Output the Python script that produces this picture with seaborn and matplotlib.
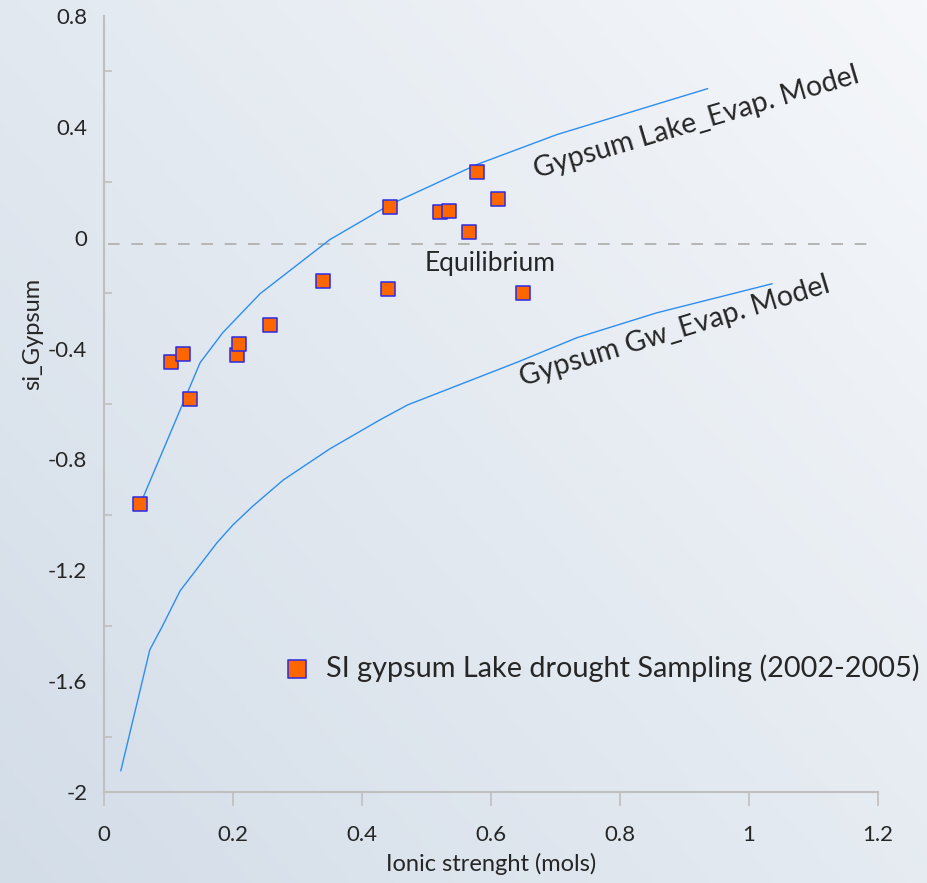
import numpy as np
import pandas as pd
import matplotlib
matplotlib.use("Agg")
import matplotlib.pyplot as plt
from matplotlib.colors import LinearSegmentedColormap
import seaborn as sns

# Sampled saturation indices (drought period)
sample_ionic = [0.056, 0.104, 0.122, 0.133, 0.206, 0.209, 0.257, 0.340,
                0.443, 0.440, 0.521, 0.535, 0.566, 0.578, 0.611, 0.650]
sample_si = [-0.96, -0.448, -0.419, -0.581, -0.422, -0.383, -0.314, -0.155,
             0.112, -0.184, 0.094, 0.097, 0.022, 0.238, 0.141, -0.199]

# Evaporation model curves
lake_ionic = [0.057, 0.149, 0.184, 0.242, 0.350, 0.443, 0.578, 0.702, 0.936]
lake_si = [-0.957, -0.451, -0.343, -0.202, -0.007, 0.119, 0.264, 0.372, 0.538]

gw_ionic = [0.026, 0.071, 0.090, 0.118, 0.175, 0.200, 0.231, 0.278, 0.350,
            0.428, 0.471, 0.642, 0.733, 0.857, 1.036]
gw_si = [-1.924, -1.487, -1.404, -1.274, -1.101, -1.036, -0.968, -0.874, -0.762,
         -0.657, -0.603, -0.448, -0.361, -0.271, -0.166]

x_ticks = [0, 0.2, 0.4, 0.6, 0.8, 1, 1.2]
x_tick_labels = ["0", "0.2", "0.4", "0.6", "0.8", "1", "1.2"]
y_ticks = [0.8, 0.4, 0, -0.4, -0.8, -1.2, -1.6, -2]
y_tick_labels = ["0.8", "0.4", "0", "-0.4", "-0.8", "-1.2", "-1.6", "-2"]

samples = pd.DataFrame({"ionic": sample_ionic, "si": sample_si})
lake = pd.DataFrame({"ionic": lake_ionic, "si": lake_si})
gw = pd.DataFrame({"ionic": gw_ionic, "si": gw_si})

sns.set_theme(style="white")
plt.rcParams["font.family"] = ["Lato", "DejaVu Sans"]

fig = plt.figure(figsize=(9.28, 8.83), dpi=100)

# soft diagonal background
bg = fig.add_axes([0, 0, 1, 1], zorder=-10)
yy, xx = np.mgrid[0:1:200j, 0:1:200j]
t = np.clip(0.55 * xx + 0.45 * (1 - yy), 0, 1)
cmap = LinearSegmentedColormap.from_list("bg", ["#d3dde8", "#e4eaf1", "#f5f7fa"])
bg.imshow(t, cmap=cmap, aspect="auto", extent=[0, 1, 0, 1], origin="upper")
bg.axis("off")

ax = fig.add_axes([104 / 928, 1 - 792 / 883, (878 - 104) / 928, (792 - 16) / 883])
ax.set_facecolor("none")

line_color = "#2b8ef0"
sns.lineplot(data=lake, x="ionic", y="si", sort=False, estimator=None,
             color=line_color, linewidth=1.0, ax=ax, legend=False, zorder=2)
sns.lineplot(data=gw, x="ionic", y="si", sort=False, estimator=None,
             color=line_color, linewidth=1.0, ax=ax, legend=False, zorder=2)

ax.plot([0.006, 1.19], [-0.022, -0.022], color="#b5b5b5", linewidth=1.4,
        dashes=(6, 6), zorder=1)

sns.scatterplot(data=samples, x="ionic", y="si", marker="s", s=95,
                color="#ff6600", edgecolor="#2a2ae6", linewidth=1.1, ax=ax,
                zorder=3, label="SI gypsum Lake drought Sampling (2002-2005)")

ax.set_xlim(0, 1.2)
ax.set_ylim(-2, 0.8)
ax.set_xticks(x_ticks)
ax.set_xticklabels(x_tick_labels)
ax.set_yticks(y_ticks)
ax.set_yticklabels(y_tick_labels)
ax.set_yticks([0.6, 0.2, -0.2, -0.6, -1.0, -1.4, -1.8], minor=True)

ax.tick_params(axis="x", which="major", direction="out", length=10, width=1.2,
               color="#bfbfbf", labelsize=16, pad=14, bottom=True)
ax.tick_params(axis="y", which="major", length=0, labelsize=16, pad=12)
ax.tick_params(axis="y", which="minor", direction="in", length=6, width=1.2,
               color="#bfbfbf", left=True)

for side in ["top", "right"]:
    ax.spines[side].set_visible(False)
for side in ["left", "bottom"]:
    ax.spines[side].set_color("#bfbfbf")
    ax.spines[side].set_linewidth(1.5)

ax.set_xlabel("Ionic strenght (mols)", fontsize=17)
ax.set_ylabel("si_Gypsum", fontsize=17)
ax.xaxis.set_label_coords(0.5, -0.078)
ax.yaxis.set_label_coords(-0.078, 0.59)

ax.text(0.598, -0.094, "Equilibrium", fontsize=19, ha="center", va="center")
ax.text(0.919, 0.415, "Gypsum Lake_Evap. Model", fontsize=20.5, ha="center",
        va="center", rotation=16.5, rotation_mode="anchor")
ax.text(0.884, -0.339, "Gypsum Gw_Evap. Model", fontsize=20.5, ha="center",
        va="center", rotation=17, rotation_mode="anchor")

leg = ax.legend(loc="center left", bbox_to_anchor=(257 / 928, 1 - 668 / 883),
                bbox_transform=fig.transFigure, frameon=False, fontsize=20.8,
                handletextpad=0.0, markerscale=1.3, borderaxespad=0)

fig.savefig("out.png", dpi=100)
